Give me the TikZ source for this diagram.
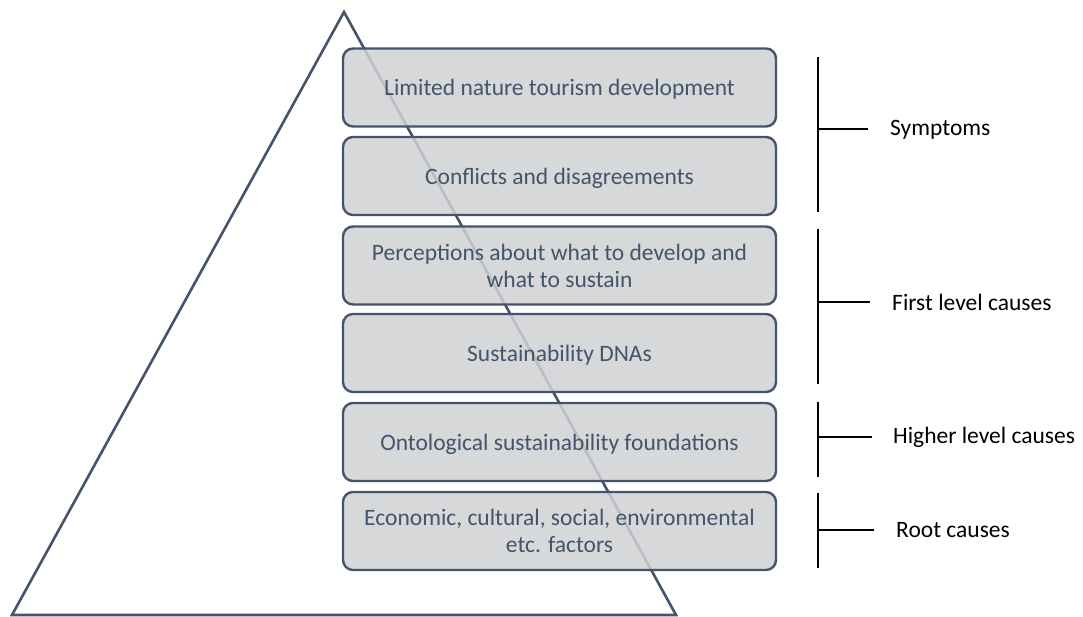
\documentclass[tikz,border=0pt]{standalone}
\usepackage{fontspec}
\setmainfont{Carlito}
\definecolor{slate}{HTML}{44546A}
\definecolor{boxfill}{HTML}{CFD1D4}
\tikzset{
  layerbox/.style={draw=slate, line width=2.4pt, fill=boxfill, fill opacity=0.85, text opacity=1,
    rounded corners=10pt, minimum width=433pt, minimum height=78pt, align=center,
    text=slate, font=\fontsize{23.5}{27}\selectfont, inner sep=0pt},
  oneline/.style={text height=19pt, text depth=2pt},
  tri/.style={draw=slate, line width=2.6pt, line join=miter},
  brack/.style={draw=black, line width=1.3pt},
  lab/.style={anchor=west, text=black, font=\fontsize{23.5}{27}\selectfont, inner sep=0pt}
}
\begin{document}
\begin{tikzpicture}[x=1pt,y=-1pt]
\useasboundingbox (0,0) rectangle (1083,617);
% pyramid
\coordinate (apex) at (344,12);
\coordinate (bl) at (12,615);
\coordinate (br) at (676,615);
\draw[tri] (apex) -- (bl) -- (br) -- cycle;
% boxes
\node[layerbox, oneline] (b1) at (559.5,87.5) {Limited nature tourism development};
\node[layerbox, oneline] (b2) at (559.5,176) {Conflicts and disagreements};
\node[layerbox] (b3) at (559.5,265.5) {Perceptions about what to develop and\\what to sustain};
\node[layerbox, oneline] (b4) at (559.5,353) {Sustainability DNAs};
\node[layerbox, oneline] (b5) at (559.5,442) {Ontological sustainability foundations};
\node[layerbox] (b6) at (559.5,531) {Economic, cultural, social, environmental\\etc. factors};
% brackets
\coordinate (s1) at (818,57); \coordinate (s2) at (818,212); \coordinate (sm) at (818,129); \coordinate (se) at (868,129);
\coordinate (f1) at (818,229); \coordinate (f2) at (818,384); \coordinate (fm) at (818,302); \coordinate (fe) at (870,302);
\coordinate (h1) at (818,402); \coordinate (h2) at (818,477); \coordinate (hm) at (818,437); \coordinate (he) at (872,437);
\coordinate (r1) at (818,493); \coordinate (r2) at (818,568); \coordinate (rm) at (818,530); \coordinate (re) at (874,530);
\draw[brack] (s1) -- (s2); \draw[brack] (sm) -- (se);
\draw[brack] (f1) -- (f2); \draw[brack] (fm) -- (fe);
\draw[brack] (h1) -- (h2); \draw[brack] (hm) -- (he);
\draw[brack] (r1) -- (r2); \draw[brack] (rm) -- (re);
\node[lab] (l1) at (890,130) {Symptoms};
\node[lab] (l2) at (892,302) {First level causes};
\node[lab] (l3) at (893,437) {Higher level causes};
\node[lab] (l4) at (896,530) {Root causes};
\end{tikzpicture}
\end{document}
